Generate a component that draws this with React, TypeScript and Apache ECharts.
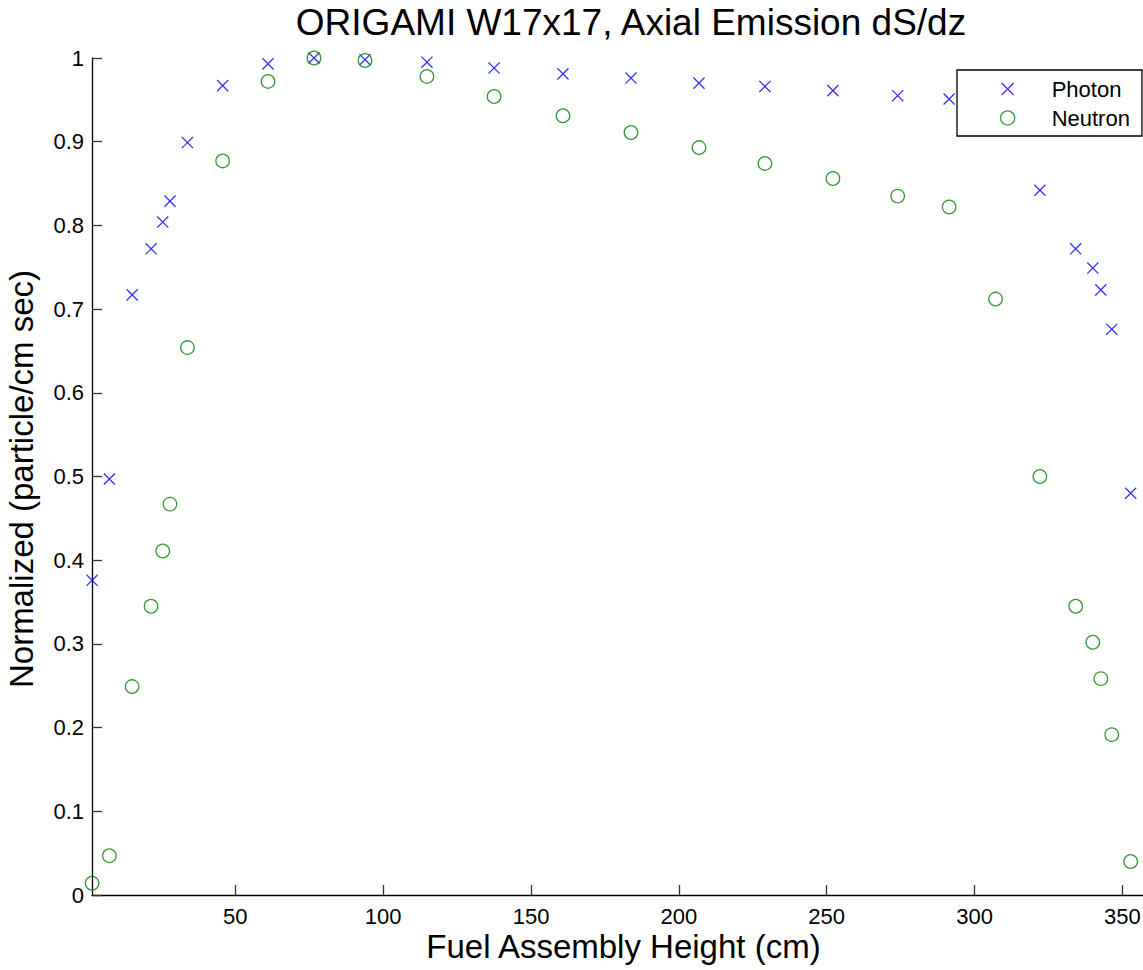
import React, { useEffect, useRef } from "react";
import * as echarts from "echarts";

const FONT = '"Liberation Sans", Arial, Helvetica, sans-serif';

const TITLE = "ORIGAMI W17x17, Axial Emission dS/dz";
const X_NAME = "Fuel Assembly Height (cm)";
const Y_NAME = "Normalized (particle/cm sec)";

const xTicks = [50, 100, 150, 200, 250, 300, 350];
const yTicks = [0, 0.1, 0.2, 0.3, 0.4, 0.5, 0.6, 0.7, 0.8, 0.9, 1];

const photonHeights = [
  1.55, 7.4, 15.1, 21.5, 25.45, 27.9, 33.8, 45.7, 61.05, 76.6, 93.85, 114.8, 137.5, 160.8,
  183.8, 206.8, 229.1, 252.1, 274.0, 291.4, 322.1, 334.2, 340.0, 342.7, 346.4, 352.8,
];
const photonValues = [
  0.376, 0.497, 0.717, 0.772, 0.804, 0.829, 0.899, 0.967, 0.993, 1.0, 0.998, 0.995, 0.988, 0.981,
  0.976, 0.97, 0.966, 0.961, 0.955, 0.951, 0.842, 0.772, 0.749, 0.723, 0.676, 0.48,
];

const neutronHeights = [
  1.55, 7.4, 15.1, 21.5, 25.45, 27.9, 33.8, 45.7, 61.05, 76.6, 93.85, 114.8, 137.5, 160.8,
  183.8, 206.8, 229.1, 252.1, 274.0, 291.4, 307.1, 322.1, 334.2, 340.0, 342.7, 346.4, 352.8,
];
const neutronValues = [
  0.014, 0.047, 0.249, 0.345, 0.411, 0.467, 0.654, 0.877, 0.972, 1.0, 0.997, 0.978, 0.954, 0.931,
  0.911, 0.893, 0.874, 0.856, 0.835, 0.822, 0.712, 0.5, 0.345, 0.302, 0.2585, 0.1916, 0.04,
];

const X_MIN = 1.52;
const X_MAX = 365.76;

const CROSS = "path://M-1,-1M0,0L12,12M12,0L0,12M13,13";

export default function App() {
  const ref = useRef<HTMLDivElement>(null);

  useEffect(() => {
    if (!ref.current) return;
    const chart = echarts.init(ref.current, null, { renderer: "svg" });
    const axisLine = { show: true, lineStyle: { color: "#000", width: 1.3 } };
    const tickStyle = { color: "#333", width: 1.3 };
    const option: any = {
      animation: false,
      backgroundColor: "#fff",
      textStyle: { fontFamily: FONT },
      grid: { left: 92, top: 58, right: -26, bottom: 75, outerBoundsMode: "none", containLabel: false },
      xAxis: {
        type: "value",
        min: X_MIN,
        max: X_MAX,
        axisLine,
        axisTick: { show: true, inside: true, length: 10, customValues: xTicks, lineStyle: tickStyle },
        axisLabel: {
          customValues: xTicks,
          margin: 10,
          fontSize: 22,
          color: "#000",
          fontFamily: FONT,
        },
        splitLine: { show: false },
      },
      yAxis: {
        type: "value",
        min: 0,
        max: 1,
        interval: 0.1,
        axisLine,
        axisTick: { show: true, inside: true, length: 10, lineStyle: tickStyle },
        axisLabel: {
          margin: 8,
          fontSize: 22,
          color: "#000",
          fontFamily: FONT,
          formatter: (v: number) => String(Math.round(v * 10) / 10),
        },
        splitLine: { show: false },
      },
      legend: {
        orient: "vertical",
        left: 957,
        top: 70,
        padding: [8, 12, 7, 43],
        itemGap: 7,
        itemWidth: 14,
        itemHeight: 14,
        backgroundColor: "#fff",
        borderColor: "#000",
        borderWidth: 1.3,
        borderRadius: 0,
        selectedMode: false,
        textStyle: { fontSize: 22, color: "#000", fontFamily: FONT, padding: [0, 0, 0, 32] },
        itemStyle: { borderWidth: 1.3 },
        data: ["Photon", "Neutron"],
      },
      series: [
        {
          name: "Photon",
          type: "scatter",
          clip: false,
          symbol: CROSS,
          symbolSize: 13,
          itemStyle: { color: "transparent", borderColor: "#0000ff", borderWidth: 1.3 },
          data: photonHeights.map((h, i) => [h, photonValues[i]]),
        },
        {
          name: "Neutron",
          type: "scatter",
          clip: false,
          symbol: "circle",
          symbolSize: 13.5,
          itemStyle: { color: "transparent", borderColor: "#008000", borderWidth: 1.3 },
          data: neutronHeights.map((h, i) => [h, neutronValues[i]]),
        },
      ],
      graphic: [
        {
          type: "text",
          x: 631,
          y: 22,
          style: {
            text: TITLE,
            fontSize: 37,
            fontFamily: FONT,
            fill: "#000",
            textAlign: "center",
            textVerticalAlign: "middle",
          },
        },
        {
          type: "text",
          x: 623.5,
          y: 946,
          style: {
            text: X_NAME,
            fontSize: 33,
            fontFamily: FONT,
            fill: "#000",
            textAlign: "center",
            textVerticalAlign: "middle",
          },
        },
        {
          type: "text",
          x: 21,
          y: 479,
          rotation: Math.PI / 2,
          style: {
            text: Y_NAME,
            fontSize: 33,
            fontFamily: FONT,
            fill: "#000",
            textAlign: "center",
            textVerticalAlign: "middle",
          },
        },
      ],
    };
    chart.setOption(option);
    return () => chart.dispose();
  }, []);

  return (
    <div
      ref={ref}
      style={{ position: "absolute", left: 0, top: 0, width: 1143, height: 970, background: "#fff" }}
    />
  );
}
